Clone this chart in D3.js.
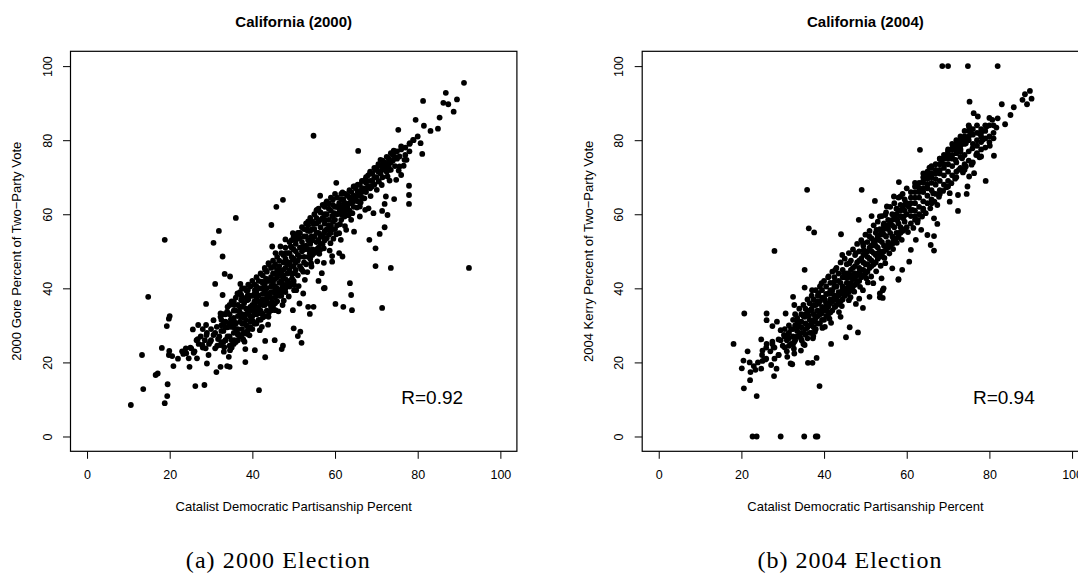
<!DOCTYPE html>
<html lang="en">
<head>
<meta charset="UTF-8" />
<title>California 2000 / 2004</title>
<script src="https://d3js.org/d3.v7.min.js"></script>
<style>
  body { margin: 0; background: #fff; }
  svg { display: block; font-family: "Liberation Sans", Arial, Helvetica, sans-serif; }
  .tick line { stroke: #000; }
  .caption { font-family: "Liberation Serif", "Times New Roman", serif; }
</style>
</head>
<body>
<script>
// [Catalist partisanship %, Gore % of two-party vote]
const pts2000 = [
  [91.2,95.5],[86.8,92.8],[86.2,90.1],[87.4,89.7],[89.5,91.0],[88.7,87.7],[81.3,90.6],[85.3,86.1],[84.9,83.1],[83.1,82.5],
  [81.5,83.9],[79.5,85.5],[75.3,82.8],[54.8,81.2],[65.6,77.1],[80.0,81.0],[78.9,80.1],[80.7,79.2],[81.1,76.3],[78.1,79.2],
  [76.0,78.3],[74.2,77.2],[75.6,75.6],[76.8,74.7],[73.1,74.7],[71.0,74.7],[71.4,73.3],[69.8,72.0],[68.5,71.1],[73.1,72.0],
  [75.6,72.9],[76.0,70.6],[74.8,69.3],[72.7,70.2],[70.6,68.8],[67.3,69.3],[68.9,67.5],[66.8,67.0],[65.6,66.1],[64.8,67.5],
  [60.3,68.5],[77.9,67.7],[77.9,65.2],[77.9,62.8],[74.3,64.1],[72.3,64.8],[72.0,62.8],[71.4,60.9],[72.7,59.8],[69.3,60.3],
  [68.1,61.6],[67.3,61.2],[66.0,62.1],[63.9,63.9],[61.8,65.9],[56.4,65.0],[62.3,63.0],[61.0,61.6],[59.8,60.3],[63.1,61.2],
  [62.3,59.4],[63.9,58.5],[66.0,59.4],[72.0,56.5],[70.8,54.7],[68.3,53.1],[69.8,50.8],[69.8,46.0],[73.5,45.5],[92.4,45.5],
  [59.3,59.5],[57.7,58.5],[55.6,61.2],[57.3,54.9],[58.5,55.8],[61.0,54.9],[62.7,55.8],[64.6,55.3],[61.4,53.1],[58.9,52.2],
  [56.0,53.1],[54.3,54.0],[53.1,55.8],[53.5,58.1],[51.4,54.9],[50.6,53.1],[52.3,51.3],[53.9,49.5],[56.4,50.4],[59.3,48.7],
  [61.8,48.6],[61.0,49.5],[57.3,46.9],[59.3,47.2],[54.3,45.9],[52.3,44.5],[56.8,44.1],[56.0,42.0],[57.3,40.0],[63.6,41.4],
  [63.9,38.2],[49.8,47.7],[48.0,49.5],[46.8,51.3],[49.3,51.3],[48.0,53.2],[49.8,54.9],[44.6,57.1],[45.8,62.0],[47.4,63.9],
  [36.0,59.0],[31.9,55.5],[30.6,52.3],[18.8,53.1],[32.8,48.6],[33.3,43.9],[34.6,43.2],[31.0,41.2],[32.8,38.2],[14.8,37.7],
  [37.1,41.2],[44.8,51.3],[45.6,49.5],[43.9,46.8],[43.1,45.0],[46.4,45.0],[44.8,42.3],[42.3,41.8],[41.0,40.5],[38.9,39.5],
  [37.3,38.2],[47.3,43.2],[50.1,40.9],[52.3,38.6],[48.0,40.0],[50.6,39.5],
  [60.1,35.8],[62.0,35.0],[64.1,34.1],[71.4,34.7],[57.5,40.1],[53.5,35.0],[54.8,35.0],[53.9,33.1],[51.4,35.9],[49.8,34.1],
  [47.3,35.5],[50.0,29.2],[51.6,28.3],[51.0,27.1],[51.9,25.3],[47.4,24.5],[47.1,23.6],[45.4,26.0],[43.1,25.8],[43.1,21.4],
  [40.6,23.3],[38.3,20.1],[41.6,12.5],[38.3,23.6],[38.1,25.6],[38.8,27.7],[38.9,28.7],[42.3,29.6],[40.6,30.5],[43.9,32.3],
  [45.6,34.1],[42.3,33.2],[32.3,33.2],[28.8,35.8],[26.9,30.1],[28.8,30.1],[19.3,29.8],[20.0,32.5],[19.8,31.8],[18.1,23.9],
  [13.3,22.0],[19.9,23.1],[20.6,21.7],[19.8,22.0],[20.9,19.0],[16.6,16.6],[17.1,17.0],[13.6,12.8],[19.5,14.1],[19.4,10.9],
  [18.8,9.0],[10.6,8.5],[26.2,13.6],[28.4,13.9],[31.3,17.4],[32.3,18.8],[33.9,19.0],[34.5,18.8],[29.0,19.7],[29.4,22.0],
  [24.8,18.8],[24.6,21.1],[23.3,22.3],[23.9,23.8],[25.2,23.8],[25.8,22.6],[26.6,21.1],[25.6,28.9],[26.8,26.3],[27.9,24.7],
  [28.7,23.8],[29.8,25.6],[28.9,27.4],[30.6,27.4],[31.0,23.8],[32.3,24.7],[33.1,22.9],[34.3,21.5],[34.6,23.3],[33.5,26.0],
  [35.6,26.0],[36.4,27.8],[34.8,29.6],[33.1,30.5],[31.4,29.6],[30.6,31.4],[32.3,32.3],[33.9,33.7],[35.6,35.5],[37.3,36.8],
  [36.4,38.6],[38.9,38.2],[40.6,39.5],[42.3,40.0],[43.9,38.2],[42.3,36.8],[40.6,35.5],[38.9,34.1],[37.3,32.3],[35.6,31.1],
  [38.1,30.5],[39.8,31.9],[41.4,33.2],[44.8,36.3],[45.6,38.6],[47.3,40.4],[48.9,41.4],[50.1,39.5],
  [30,26],[31,28],[31.5,24.5],[32,27],[32.5,30],[33,25.5],[33,28.5],[33.5,31],[34,27],[34,29.5],
  [34.5,33],[35,26],[35,30],[35.5,32],[35.5,28],[36,34],[36,30.5],[36.5,27.5],[37,31],[37,35],
  [37.5,33],[37.5,29],[38,36],[38,32],[38.5,34.5],[38.5,30],[39,37],[39,33.5],[39.5,35],[39.5,31],
  [40,38],[40,35.5],[40,32.5],[40.5,36.5],[40.5,34],[41,39],[41,37],[41,33],[41.5,35],[41.5,38],
  [42,40],[42,36],[42,34],[42.5,38.5],[42.5,37],[43,41],[43,39],[43,35.5],[43.5,37.5],[43.5,40],
  [44,42],[44,38.5],[44,36],[44.5,40.5],[44.5,43],[45,39],[45,41.5],[45,44],[45.5,37.5],[45.5,42.5],
  [46,45],[46,40],[46,43],[46.5,41.5],[46.5,46],[47,44],[47,42],[47.5,47],[47.5,43.5],[48,45.5],
  [48,48],[48,42.5],[48.5,44],[49,47],[49,49.5],[49,45],[49.5,51],[50,48],[50,46],[50,50.5],
  [50.5,52],[51,49],[51,47.5],[51.5,51],[51.5,53.5],[52,50],[52,52.5],[52.5,48.5],[53,54],[53,51.5],
  [53.5,53],[54,55.5],[54,52],[54.5,50.5],[55,56],[55,54],[55.5,57.5],[55.5,52.5],[56,55],[56,58],
  [56.5,56.5],[57,59],[57,54],[57.5,57.5],[58,60],[58,56],[58.5,58.5],[59,61],[59,57],[59.5,59.5],
  [60,62],[60,58.5],[60.5,60],[61,63],[61,60.5],[61.5,62],[62,64],[62,61],[62.5,63],[63,65],
  [63,62],[63.5,64.5],[64,66],[64,63],[64.5,65],[65,67],[65,64],[65.5,66],[66,68],[66,65.5],
  [66.5,67],[67,69],[67,66.5],[67.5,68.5],[68,70.5],[68,67.5],[69,71],[69,69],[70,72.5],[70,70],
  [71,73],[71,71],[72,74],[72,72.5],[73,75],[73,73],[74,76],[74,74.5],[75,77],[75,75],
  [76,77.5],[77,78],[78,79],[79,80],[78,77],[77,76],
  [22,21],[23,23],[24,22.5],[25,24],[26,23],[27,25],[27.5,27],[28,24],[28.5,26],[29,28],
  [29.5,25],[30,29],[28,29],[26.5,26],
  [33,33],[34,35],[35,36.5],[35,24],[36,37.5],[36,25.5],[37,39],[37,27],[38,40],[38,28],
  [39,41],[39,29.5],[40,42],[40,29],[41,43],[41,30.5],[42,44],[42,31.5],[43,45.5],[43,32.5],
  [44,46.5],[44,33.5],[45,47.5],[45,35],[46,48.5],[46,36.5],[47,49.5],[47,38],[48,51],[48,39],
  [49,52.5],[49,40.5],[50,54],[50,42],[51,55],[51,43.5],[52,56.5],[52,45],[53,57.5],[53,46.5],
  [54,59],[54,48],[55,60],[55,49.5],[56,61.5],[56,51],[57,62.5],[57,52],[58,63.5],[58,53.5],
  [59,64.5],[59,55],[60,65.5],[60,56],
  [32.5,25.5],[32.5,28.5],[32.5,31.5],[33.5,26],[33.5,29.5],[33.5,33],[34.5,27],[34.5,30.5],[34.5,35.5],[34.5,24.5],
  [35.5,29.5],[35.5,34],[35.5,36.5],[35.5,25],[36.5,29],[36.5,32.5],[36.5,35.5],[36.5,38.5],[36.5,26],[37.5,30.5],
  [37.5,35],[37.5,37.5],[37.5,27.5],[37.5,40],[38.5,31.5],[38.5,33],[38.5,37.5],[38.5,39.5],[38.5,28],[39.5,32.5],
  [39.5,34],[39.5,38],[39.5,40.5],[39.5,29.5],[40.5,33],[40.5,35],[40.5,38.5],[40.5,41],[40.5,30.5],[41.5,34],
  [41.5,36.5],[41.5,40],[41.5,42],[41.5,31.5],[42.5,35.5],[42.5,40],[42.5,41.5],[42.5,43.5],[42.5,33],[43.5,36.5],
  [43.5,38.5],[43.5,42],[43.5,44.5],[43.5,34],[44.5,37.5],[44.5,39],[44.5,42],[44.5,45.5],[44.5,35],[45.5,39.5],
  [45.5,40.5],[45.5,44],[45.5,46.5],[45.5,36],[46.5,39.5],[46.5,44],[46.5,47.5],[46.5,38],[47.5,41],[47.5,45],
  [47.5,49],[47.5,39.5],[48.5,42],[48.5,46.5],[48.5,49.5],[48.5,41],[49.5,44],[49.5,46],[49.5,48.5],[49.5,53],
  [50.5,45],[50.5,47],[50.5,50],[50.5,54],[51.5,46],[51.5,48.5],[51.5,55],[52.5,47],[52.5,50.5],[52.5,54],
  [52.5,56],[53.5,48.5],[53.5,50.5],[53.5,55.5],[53.5,57],[54.5,49],[54.5,53],[54.5,56],[54.5,58],[55.5,50.5],
  [55.5,55],[55.5,59],[55.5,61],[56.5,52],[56.5,54],[56.5,58.5],[56.5,60.5],[57.5,53],[57.5,55.5],[57.5,60],
  [57.5,62],[58.5,54.5],[58.5,57],[58.5,61.5],[58.5,63],[59.5,56],[59.5,58],[59.5,62.5],[59.5,64],[60.5,57],
  [60.5,62],[60.5,64.5],[61.5,58.5],[61.5,60],[61.5,64],[61.5,65.5],[62.5,60],[62.5,61.5],[62.5,65.5],[63.5,61],
  [63.5,63],[63.5,66.5],[64.5,62],[64.5,63.5],[64.5,67.5],[65.5,63.5],[65.5,65],[65.5,68],[66.5,64.5],[66.5,66],
  [66.5,69],[67.5,66],[67.5,67],[67.5,70],[68.5,67],[68.5,69],[68.5,71.5],[69.5,68],[69.5,70],[69.5,72.5],
  [70.5,69],[70.5,71.5],[70.5,73.5],[71.5,70],[71.5,72],[71.5,74.5],[72.5,71.5],[72.5,73.5],[72.5,75.5],[73.5,72],
  [73.5,74],[73.5,76.5],[74.5,73],[74.5,75.5],[74.5,77],
  [31.7,26.3],[33.2,24.1],[34.8,31.6],[36.2,28.9],[36.9,33.7],[37.8,26.2],[38.7,36.8],[39.3,27.3],[40.2,31.1],[40.9,37.8],
  [41.8,28.7],[42.6,32.2],[43.3,42.6],[43.8,30.2],[44.7,34.1],[45.2,45.8],[46.3,33.8],[46.8,38.9],[47.6,36.7],[48.3,47.2],
  [48.8,37.8],[49.6,42.7],[50.3,44.1],[51.2,40.6],[51.8,45.3],[52.7,42.3],[53.3,44.4],[54.2,46.8],[54.8,57.4],[55.7,47.3],
  [56.2,49.3],[57.3,50.8],[57.8,62.9],[58.7,50.2],[59.6,53.4],[60.3,54.6],[61.2,57.3],[62.4,56.8],[63.3,59.7],[64.2,60.3],
  [65.3,61.8],[66.2,63.2],[67.1,64.3],[68.6,64.9],[70.1,66.6],[71.3,67.9],[73.2,69.1],[75.4,71.8],[76.6,73.1],[77.3,74.7]
];

// [Catalist partisanship %, Kerry % of two-party vote]
const pts2004 = [
  [68.6,100],[70.0,100],[74.8,100],[82.0,100],[89.8,93.3],[88.6,92.4],[88.0,90.9],[90.2,91.2],[89.1,89.7],[83.0,89.7],
  [75.2,90.4],[85.9,88.9],[85.1,86.8],[83.8,84.3],[81.7,83.4],[82.0,85.9],[80.7,85.5],[79.3,83.7],[76.2,87.3],[77.2,86.4],
  [75.1,83.5],[75.5,82.1],[77.6,81.9],[78.4,80.1],[80.1,78.5],[81.1,75.8],[79.1,69.0],[78.0,75.6],[76.8,76.0],[75.9,77.8],
  [74.3,79.2],[72.8,79.2],[71.0,77.8],[69.7,76.0],[68.5,73.8],[67.6,71.5],[63.2,77.4],[65.5,72.6],[58.1,68.7],[65.1,70.2],
  [63.9,68.8],[62.7,67.5],[70.4,65.7],[70.4,63.4],[72.4,60.9],[72.4,65.2],[74.5,65.5],[74.7,67.5],[75.1,70.2],[76.3,71.1],
  [74.3,72.9],[72.6,72.0],[71.8,74.7],[73.4,75.1],[73.0,76.9],[66.4,65.7],[67.4,62.5],[66.6,58.9],[67.4,57.4],[65.0,54.4],
  [66.6,54.1],[65.8,51.7],[66.6,50.2],[60.6,47.2],[61.0,50.4],[62.2,53.1],[63.5,55.8],[62.7,58.5],[61.4,61.2],[59.8,63.0],
  [58.5,64.8],[56.9,64.8],[55.2,62.1],[52.3,63.6],[49.1,66.6],[35.9,66.6],[54.8,59.8],[53.5,59.4],[51.5,59.5],[48.4,58.5],
  [36.3,56.2],[37.6,55.1],[44.1,54.6],[28.0,50.1],[35.3,45.0],[35.3,40.2],[37.1,39.5],[32.5,37.7],[44.4,49.0],[46.1,46.8],
  [47.7,49.5],[49.4,52.2],[51.0,54.0],[52.7,55.8],[54.4,57.1],[56.0,57.6],[57.7,58.5],[59.3,59.4],[58.1,55.0],[56.8,53.1],
  [55.2,51.3],[53.1,49.5],[54.8,46.8],[56.5,45.4],[58.9,45.0],[58.0,42.5],[53.9,42.7],[54.4,40.0],[53.5,38.6],[51.9,41.4],
  [50.2,42.7],[48.6,44.5],[46.9,43.6],[44.8,44.1],[42.7,45.0],[41.1,43.2],[39.4,41.4],[38.6,38.6],[42.7,40.5],[44.4,38.6],
  [46.1,40.5],[49.4,39.5],[51.0,37.7],
  [32.8,35.5],[30.7,33.2],[26.1,33.2],[20.7,33.2],[26.1,31.4],[28.6,31.0],[27.5,29.8],[29.5,28.7],[30.3,27.4],[24.8,26.2],
  [26.1,25.0],[18.1,25.0],[21.5,23.0],[20.5,20.5],[20.1,18.4],[22.2,17.4],[23.4,18.0],[24.8,18.3],[22.1,15.2],[20.6,13.0],
  [23.7,10.9],[27.9,16.3],[28.5,18.3],[27.2,19.3],[25.1,20.4],[25.8,20.8],[25.1,23.2],[27.5,25.6],[27.8,24.1],[29.0,26.2],
  [29.0,22.0],[31.1,21.5],[31.9,19.7],[32.3,19.5],[32.8,22.4],[34.4,23.2],[35.3,24.7],[36.1,19.9],[37.2,19.9],[38.2,21.2],
  [38.9,13.6],[41.7,25.0],[45.3,26.8],[48.2,28.1],[46.2,29.5],[40.2,29.6],[41.7,30.7],[44.0,32.3],[49.4,34.7],[53.5,37.6],
  [54.2,37.4],[54.2,39.5],[58.0,42.3],[47.7,35.8],[46.0,36.8],[48.5,37.2],[37.3,26.5],[37.8,28.3],[34.4,26.5],[32.8,25.6],
  [33.6,29.6],[35.3,32.3],[36.9,34.1],[38.6,35.9],[40.2,36.8],[41.9,38.6],[44.4,39.5],[42.7,35.0],[39.4,33.2],[37.8,31.0],
  [22.7,0],[23.7,0],[29.5,0],[35.2,0],[38.0,0],[38.4,0],
  [28,24],[29,22],[29.5,26],[30,24.5],[30.5,27],[31,23],[31,26],[31.5,28],[32,25],[32,29],
  [32.5,27],[33,30],[33,26],[33.5,28.5],[34,31],[34,27.5],[34.5,29.5],[35,32.5],[35,28],[35.5,30.5],
  [36,33.5],[36,29.5],[36.5,31.5],[37,34.5],[37,30.5],[37.5,33],[38,35.5],[38,32],[38.5,34],[39,36.5],
  [39,33],[39.5,35],[40,37.5],[40,34],[40.5,36],[41,38.5],[41,35],[41.5,37],[42,39.5],[42,36.5],
  [42.5,38],[43,40.5],[43,37],[43.5,39],[44,41.5],[44,38.5],[44.5,40.5],[45,43],[45,39.5],[45.5,41.5],
  [46,44],[46,41],[46.5,43],[47,45.5],[47,42.5],[47.5,44],[48,47],[48,43.5],[48.5,45.5],[49,48],
  [49,45],[49.5,47],[50,49.5],[50,46.5],[50.5,48.5],[51,51],[51,48],[51.5,50],[52,52.5],[52,49.5],
  [52.5,51.5],[53,54],[53,51],[53.5,53],[54,55.5],[54,52.5],[54.5,54.5],[55,57],[55,54],[55.5,56],
  [56,58],[56,55],[56.5,57],[57,59.5],[57,56.5],[57.5,58.5],[58,61],[58,57.5],[58.5,59.5],[59,62],
  [59,59],[59.5,61],[60,63],[60,60],[60.5,62],[61,64.5],[61,61],[62,63],[62,66],[63,64.5],
  [63,67],[64,66],[64,68.5],[65,67],[65,69.5],[66,68.5],[66,71],[67,69.5],[67,72],[68,71],
  [68,73.5],[69,72.5],[69,75],[70,73.5],[70,76],[71,75],[71,77.5],[72,76.5],[72,79],[73,77.5],
  [73,80],[74,79],[74,81],[75,80],[75,82.5],[76,81.5],[76,79],[77,82],[77,80],[78,83],
  [78,81],[79,82.5],[80,84],
  [24,20],[25,22],[26,21],[26,24],[27,23],[27.5,25],[28,21],[23,19],[22,20],
  [33,33],[34,34.5],[35,35.5],[35,25],[36,37],[36,26.5],[37,38],[37,28],[38,39.5],[38,29],
  [39,40.5],[39,30.5],[40,42],[40,31.5],[41,43],[41,33],[42,44.5],[42,34],[43,45.5],[43,35.5],
  [44,47],[44,36.5],[45,48],[45,38],[46,49.5],[46,39],[47,50.5],[47,40.5],[48,52],[48,41.5],
  [49,53],[49,43],[50,54.5],[50,44],[51,55.5],[51,45.5],[52,57],[52,46.5],[53,58],[53,48],
  [54,59.5],[54,49],[55,60.5],[55,50.5],[56,62],[56,51.5],[57,63],[57,53],[58,64.5],[58,54],
  [59,65.5],[59,55.5],[60,67],[60,56.5],[62,68.5],[62,58.5],[64,71],[64,61],[66,73],[66,63],
  [68,75],[68,65.5],[70,77],[70,67.5],[72,78.5],[72,70],[74,80],[74,72],[76,83],[76,74],
  [30.5,24],[30.5,29],[31.5,24.5],[31.5,26.5],[31.5,30],[32.5,25],[32.5,29],[32.5,31.5],[33.5,27],[33.5,31],
  [33.5,32],[34.5,28],[34.5,31],[34.5,33],[35.5,27.5],[35.5,29],[35.5,33],[35.5,34.5],[36.5,28],[36.5,30],
  [36.5,34],[36.5,36],[37.5,29.5],[37.5,31.5],[37.5,35.5],[37.5,37],[38.5,30.5],[38.5,32.5],[38.5,36.5],[38.5,38],
  [39.5,31.5],[39.5,34],[39.5,37.5],[39.5,39.5],[40.5,32.5],[40.5,35],[40.5,38.5],[40.5,40.5],[41.5,33.5],[41.5,36],
  [41.5,39.5],[41.5,41.5],[42.5,35],[42.5,37],[42.5,40.5],[42.5,43],[43.5,36],[43.5,38],[43.5,42],[43.5,44],
  [44.5,37],[44.5,39],[44.5,43],[44.5,45],[45.5,38.5],[45.5,40],[45.5,44],[45.5,46.5],[46.5,39.5],[46.5,41.5],
  [46.5,45],[46.5,47.5],[47.5,41],[47.5,42.5],[47.5,46],[47.5,49],[48.5,42],[48.5,44],[48.5,47.5],[48.5,50],
  [49.5,43.5],[49.5,45],[49.5,49],[49.5,51.5],[50.5,44.5],[50.5,46.5],[50.5,50],[50.5,52.5],[51.5,46],[51.5,47.5],
  [51.5,51.5],[51.5,53.5],[52.5,47],[52.5,49],[52.5,53],[52.5,55],[53.5,48.5],[53.5,50],[53.5,54.5],[53.5,56],
  [54.5,50],[54.5,51.5],[54.5,56],[54.5,57.5],[55.5,51],[55.5,52.5],[55.5,57],[55.5,58.5],[56.5,52],[56.5,54],
  [56.5,58.5],[56.5,60],[57.5,53.5],[57.5,55],[57.5,60],[57.5,61.5],[58.5,55],[58.5,56.5],[58.5,61],[58.5,62.5],
  [59.5,56],[59.5,58],[59.5,62.5],[59.5,64],[61,57.5],[61,59.5],[61,63],[61,66],[62,59.5],[62,61],
  [62,64.5],[62,67.5],[63,60],[63,62],[63,66],[63,68.5],[64,61.5],[64,63.5],[64,67],[64,70],
  [65,63],[65,65],[65,68],[65,71.5],[66,64],[66,66.5],[66,70],[66,72.5],[67,65.5],[67,68],
  [67,71],[67,73.5],[68,66.5],[68,69],[68,72],[68,75],[69,68],[69,70.5],[69,73.5],[69,76],
  [70,69],[70,71.5],[70,75],[70,77.5],[71,70.5],[71,73],[71,76],[71,79],[72,71.5],[72,74],
  [72,77.5],[72,80],[73,72.5],[73,75.5],[73,78.5],[73,81],[74,73.5],[74,76],[74,80],[74,82.5],
  [75,74.5],[75,77],[75,81],[75,84],[77,76.5],[77,78.5],[77,84],[78,77.5],[78,79.5],[78,82],
  [79,78],[79,80.5],[79,84],[80,79.5],[80,81],[80,86],[81,80.5],[81,82],[81,84],
  [31.4,27.8],[32.7,23.7],[33.8,30.1],[34.6,25.9],[36.3,32.6],[37.4,27.1],[38.3,33.9],[39.6,29.3],[40.6,34.2],[41.3,31.8],
  [42.4,41.7],[43.6,33.6],[44.3,35.2],[45.6,42.8],[46.4,37.6],[47.3,39.1],[48.7,40.4],[49.6,50.3],[50.6,41.6],[51.4,43.2],
  [52.6,44.6],[53.7,46.1],[54.6,48.2],[55.8,49.4],[56.7,50.6],[57.6,52.3],[58.8,53.1],[60.3,55.2],[61.6,56.3],[62.6,57.8],
  [63.7,59.4],[64.6,60.3],[65.7,61.6],[66.7,63.4],[67.8,64.7],[68.8,66.3],[69.6,67.3],[70.8,68.4],[71.7,69.6],[73.6,71.3],
  [75.7,73.4],[77.6,75.4]
];

const tickValues = [0, 20, 40, 60, 80, 100];
const titles = ["California (2000)", "California (2004)"];
const yLabels = ["2000 Gore Percent of Two\u2212Party Vote", "2004 Kerry Percent of Two\u2212Party Vote"];
const xLabel = "Catalist Democratic Partisanship Percent";
const rLabels = ["R=0.92", "R=0.94"];
const captions = ["(a) 2000 Election", "(b) 2004 Election"];

const width = 1078, height = 574;

const svg = d3.select("body")
  .append("svg")
  .attr("width", width)
  .attr("height", height);

// plot box: 0..100 takes 413.3px, R pads the range by 4% each side
const boxW = 446.4;
const boxTop = 51.3, boxBottom = 451.3;

function drawPanel(i, pts, left) {
  const x = d3.scaleLinear().domain([-4, 104]).range([left, left + boxW]);
  const y = d3.scaleLinear().domain([-4, 104]).range([boxBottom, boxTop]);
  const cx = left + boxW / 2;

  const g = svg.append("g");

  // title
  g.append("text")
    .attr("x", cx)
    .attr("y", 21)
    .attr("text-anchor", "middle")
    .attr("dominant-baseline", "central")
    .style("font-size", "15px")
    .style("font-weight", "bold")
    .text(titles[i]);

  // x axis
  const xa = g.append("g")
    .attr("transform", `translate(0,${boxBottom})`)
    .call(d3.axisBottom(x).tickValues(tickValues).tickSize(7.5).tickPadding(11).tickFormat(d3.format("d")));
  xa.select(".domain").remove();
  xa.attr("font-family", null);
  xa.selectAll("text").style("font-size", "12.5px").attr("fill", "#000");

  // y axis, labels parallel to the axis like R
  const ya = g.append("g")
    .attr("transform", `translate(${left},0)`)
    .call(d3.axisLeft(y).tickValues(tickValues).tickSize(7.5).tickFormat(d3.format("d")));
  ya.select(".domain").remove();
  ya.attr("font-family", null);
  ya.selectAll("text")
    .attr("x", null).attr("dy", null)
    .attr("transform", "translate(-23,0) rotate(-90)")
    .attr("text-anchor", "middle")
    .attr("dominant-baseline", "central")
    .attr("fill", "#000")
    .style("font-size", "12.5px");

  // axis titles
  g.append("text")
    .attr("x", cx)
    .attr("y", 506)
    .attr("text-anchor", "middle")
    .attr("dominant-baseline", "central")
    .style("font-size", "13px")
    .text(xLabel);

  g.append("text")
    .attr("transform", `translate(${left - 54},${(boxTop + boxBottom) / 2}) rotate(-90)`)
    .attr("text-anchor", "middle")
    .attr("dominant-baseline", "central")
    .style("font-size", "13px")
    .text(yLabels[i]);

  // points
  g.append("g")
    .selectAll("circle")
    .data(pts)
    .enter()
    .append("circle")
    .attr("cx", d => x(d[0]))
    .attr("cy", d => y(d[1]))
    .attr("r", 2.9)
    .attr("fill", "#000");

  // correlation label
  g.append("text")
    .attr("x", x(83.5))
    .attr("y", y(10.5))
    .attr("text-anchor", "middle")
    .attr("dominant-baseline", "central")
    .style("font-size", "19px")
    .text(rLabels[i]);

  // box
  g.append("rect")
    .attr("x", left)
    .attr("y", boxTop)
    .attr("width", boxW)
    .attr("height", boxBottom - boxTop)
    .attr("fill", "none")
    .attr("stroke", "#000")
    .attr("stroke-width", 1.2);

  // subfigure caption
  g.append("text")
    .attr("class", "caption")
    .attr("x", left + 207.3)
    .attr("y", 559.5)
    .attr("text-anchor", "middle")
    .attr("dominant-baseline", "central")
    .attr("textLength", 184)
    .attr("lengthAdjust", "spacing")
    .style("font-size", "24px")
    .text(captions[i]);
}

drawPanel(0, pts2000, 70.5);
drawPanel(1, pts2004, 642.2);
</script>
</body>
</html>
